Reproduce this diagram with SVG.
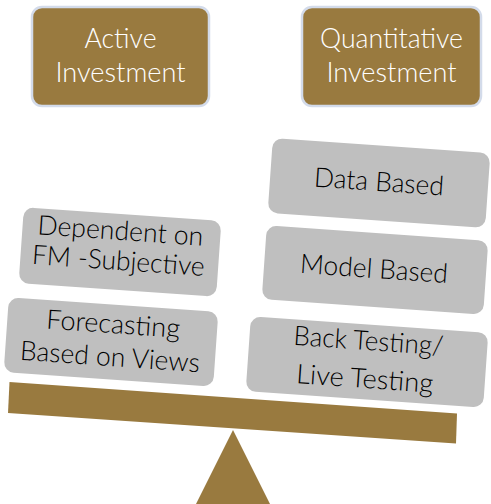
<svg xmlns="http://www.w3.org/2000/svg" width="491" height="504" viewBox="0 0 491 504">
<style>
.head rect{fill:#997A3F;stroke:#D3DBEA;stroke-width:2.5}
.head text{fill:#ffffff;font-family:Lato,"Open Sans","Liberation Sans",sans-serif;font-weight:300;font-size:27px;text-anchor:middle}
.item rect{fill:#BFBFBF}
.item text{fill:#000000;font-family:Lato,"Open Sans","Liberation Sans",sans-serif;font-weight:300;font-size:27px;text-anchor:middle}
.brown{fill:#997A3F}
</style>
<g id="scale">
<polygon class="brown" points="9.5,382 457,413.5 456,443.5 8,413"/>
<polygon class="brown" points="233,430 270,504 196,504"/>
</g>
<g id="connectors"/>
<g id="active-investment" class="head">
<rect x="32" y="7" width="177" height="99" rx="10"/>
<text x="120.5" y="48" textLength="72" lengthAdjust="spacingAndGlyphs">Active</text>
<text x="120.5" y="82" textLength="130" lengthAdjust="spacingAndGlyphs">Investment</text>
</g>
<g id="quantitative-investment" class="head">
<rect x="302" y="7" width="179" height="99" rx="10"/>
<text x="391.5" y="48" textLength="143" lengthAdjust="spacingAndGlyphs">Quantitative</text>
<text x="391.5" y="82" textLength="130" lengthAdjust="spacingAndGlyphs">Investment</text>
</g>
<g id="data-based" class="item" transform="rotate(4 379 183)">
<rect x="270" y="145.5" width="218" height="75" rx="10"/>
<text x="379" y="191" textLength="130" lengthAdjust="spacingAndGlyphs">Data Based</text>
</g>
<g id="model-based" class="item" transform="rotate(4 375 270)">
<rect x="264" y="233" width="222" height="74" rx="10"/>
<text x="374" y="278" textLength="148" lengthAdjust="spacingAndGlyphs">Model Based</text>
</g>
<g id="dependent-on-fm" class="item" transform="rotate(4 120 252)">
<rect x="21" y="214" width="198" height="76" rx="10"/>
<text x="119" y="240" textLength="166" lengthAdjust="spacingAndGlyphs">Dependent on</text>
<text x="119" y="270" textLength="173" lengthAdjust="spacingAndGlyphs">FM -Subjective</text>
</g>
<g id="forecasting" class="item" transform="rotate(4 111 342)">
<rect x="6" y="304.5" width="210" height="75" rx="10"/>
<text x="112" y="333" textLength="134" lengthAdjust="spacingAndGlyphs">Forecasting</text>
<text x="111" y="366" textLength="180" lengthAdjust="spacingAndGlyphs">Based on Views</text>
</g>
<g id="back-testing" class="item" transform="rotate(4 367 362)">
<rect x="248" y="324.5" width="238" height="75" rx="10"/>
<text x="367" y="350" textLength="150" lengthAdjust="spacingAndGlyphs">Back Testing/</text>
<text x="366" y="388" textLength="137" lengthAdjust="spacingAndGlyphs">Live Testing</text>
</g>
</svg>
